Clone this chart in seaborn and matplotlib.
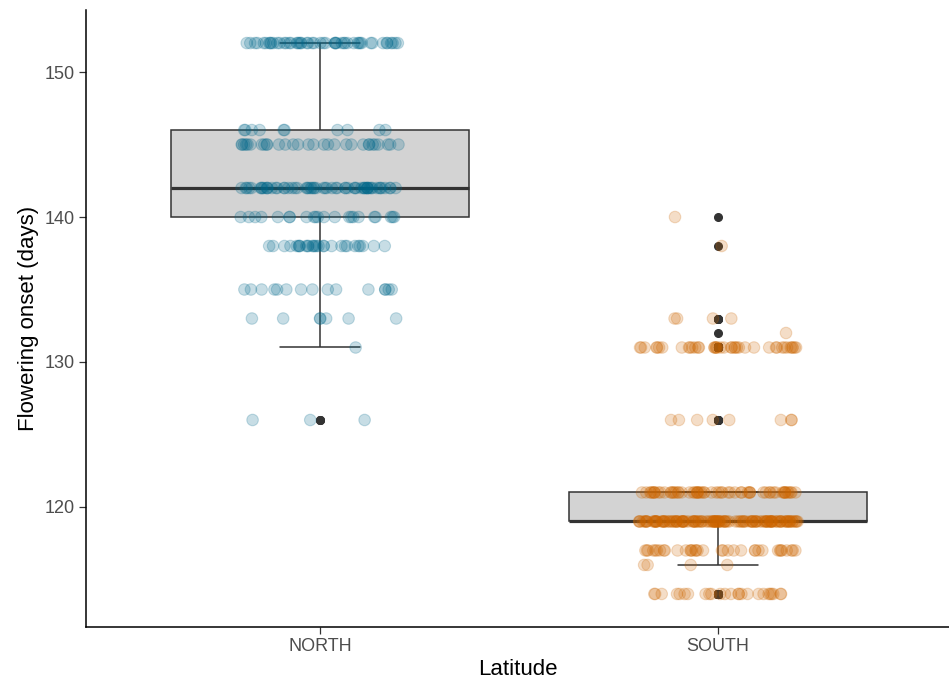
import numpy as np
import pandas as pd
import matplotlib
matplotlib.use("Agg")
import matplotlib.pyplot as plt
import seaborn as sns

# Flowering onset (days) observed at each latitude, as value / count pairs
north_days = [126, 131, 133, 135, 138, 140, 142, 145, 146, 152]
north_counts = [3, 1, 7, 15, 28, 22, 60, 30, 10, 50]

south_days = [114, 116, 117, 119, 121, 126, 131, 132, 133, 138, 140]
south_counts = [25, 4, 35, 130, 60, 8, 40, 1, 4, 1, 1]

latitudes = ["NORTH", "SOUTH"]
point_colors = ["#00688B", "#CD6600"]

df = pd.concat([
    pd.DataFrame({"Latitude": "NORTH", "onset": np.repeat(north_days, north_counts)}),
    pd.DataFrame({"Latitude": "SOUTH", "onset": np.repeat(south_days, south_counts)}),
], ignore_index=True)

sns.set_style("white")
plt.rcParams["font.family"] = ["Liberation Sans", "DejaVu Sans"]

fig = plt.figure(figsize=(9.49, 6.9), dpi=100)
ax = fig.add_axes([0.0906, 0.0913, 0.9094, 0.8942])

dark = "#333333"
sns.boxplot(
    data=df, x="Latitude", y="onset", order=latitudes, ax=ax,
    width=0.75, color="#D3D3D3", linecolor=dark, linewidth=1.1,
    capwidths=0.2,
    medianprops=dict(color=dark, linewidth=2.3),
    flierprops=dict(marker="o", markerfacecolor=dark, markeredgecolor=dark,
                    markersize=5.5),
)
# the box patches stay opaque
for patch in ax.patches:
    patch.set_facecolor("#D3D3D3")

np.random.seed(7)
sns.stripplot(
    data=df, x="Latitude", y="onset", order=latitudes, hue="Latitude",
    hue_order=latitudes, palette=point_colors, jitter=0.2, size=8.3,
    alpha=0.22, linewidth=0.8, legend=False, ax=ax,
)
for coll in ax.collections:
    fc = coll.get_facecolor()
    if len(fc):
        coll.set_edgecolor(fc)

ax.set_xlim(-0.588, 1.58)
ax.set_ylim(111.72, 154.28)
ax.set_yticks([120, 130, 140, 150])

for side in ["top", "right"]:
    ax.spines[side].set_visible(False)
for side in ["left", "bottom"]:
    ax.spines[side].set_color("black")
    ax.spines[side].set_linewidth(1.1)

ax.tick_params(axis="both", which="both", length=5, width=0.9, color=dark,
               labelcolor="#4D4D4D", labelsize=13, pad=3,
               left=True, bottom=True)
ax.set_xlabel("Latitude", fontsize=16, color="black", labelpad=3)
ax.set_ylabel("Flowering onset (days)", fontsize=16, color="black", labelpad=4)

fig.savefig("out.png", dpi=100)
